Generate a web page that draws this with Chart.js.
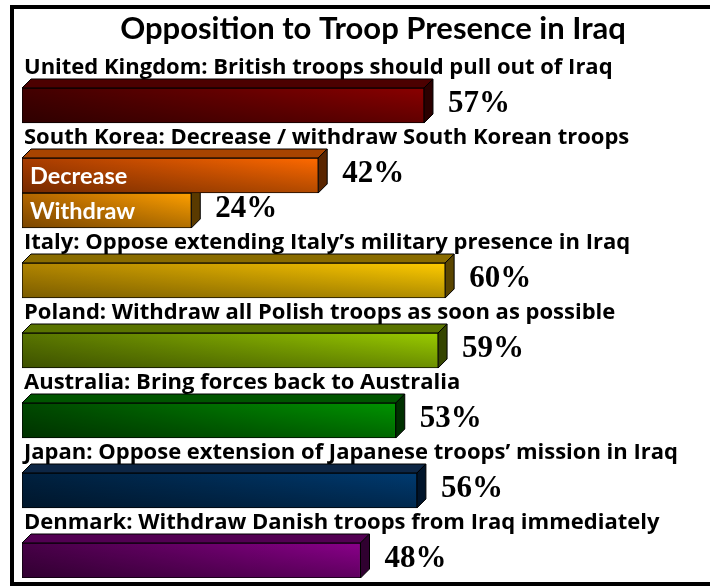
<!DOCTYPE html>
<html>
<head>
<meta charset="utf-8">
<script src="https://cdn.jsdelivr.net/npm/chart.js@4.4.0/dist/chart.umd.min.js"></script>
<style>
  body { margin: 0; background: #fff; }
  #wrap { position: relative; width: 710px; height: 587px; overflow: hidden; }
  #frame { position: absolute; left: 10px; top: 5px; width: 720px; height: 581px; border: 4px solid #000; box-sizing: border-box; }
  #iraqChart { position: absolute; left: 0; top: 0; }
</style>
</head>
<body>
<div id="wrap">
  <div id="frame"></div>
  <canvas id="iraqChart" width="710" height="587"></canvas>
</div>
<script>
// Chart data
const chartTitle = 'Opposition to Troop Presence in Iraq';
const countries = ['United Kingdom', 'South Korea', 'Italy', 'Poland', 'Australia', 'Japan', 'Denmark'];
const questions = [
    'British troops should pull out of Iraq',
    'Decrease / withdraw South Korean troops',
    'Oppose extending Italy\u2019s military presence in Iraq',
    'Withdraw all Polish troops as soon as possible',
    'Bring forces back to Australia',
    'Oppose extension of Japanese troops\u2019 mission in Iraq',
    'Withdraw Danish troops from Iraq immediately'
];
const answers = [[''], ['Decrease', 'Withdraw'], [''], [''], [''], [''], ['']];
const values = [[57], [42, 24], [60], [59], [53], [56], [48]];

// Bar colours, one per bar (front light/dark, top face, side face)
const palette = [
    { light: '#8a0000', dark: '#420000', top: '#4c0000', side: '#2a0000' },
    { light: '#ff6a00', dark: '#a83c00', top: '#a84400', side: '#5a2500' },
    { light: '#ffa000', dark: '#b06400', top: '#b06a00', side: '#5a3a00' },
    { light: '#ffcc00', dark: '#b08400', top: '#8a6c00', side: '#5a4500' },
    { light: '#9acc00', dark: '#587400', top: '#5a7400', side: '#354500' },
    { light: '#009400', dark: '#004800', top: '#005500', side: '#003000' },
    { light: '#003a70', dark: '#00203e', top: '#0d2645', side: '#00142a' },
    { light: '#8a008a', dark: '#460046', top: '#520052', side: '#300030' }
];

const DEPTH = 9;

// Build rows: a title row for each country, then one row per bar
const rowLabels = [];
const rowValues = [];
const rowInfo = [];
let barCount = 0;
countries.forEach((country, i) => {
    rowLabels.push(country + ': ' + questions[i]);
    rowValues.push(null);
    rowInfo.push({ kind: 'title' });
    values[i].forEach((v, j) => {
        rowLabels.push(answers[i][j]);
        rowValues.push(v);
        rowInfo.push({ kind: 'bar', sub: j, color: palette[barCount++] });
    });
});

// 3D faces, titles and value labels
const boxPlugin = {
    id: 'box3d',
    beforeDatasetsDraw(chart) {
        const ctx = chart.ctx;
        const meta = chart.getDatasetMeta(0);
        ctx.save();
        ctx.lineWidth = 1;
        ctx.strokeStyle = '#000';
        meta.data.forEach((bar, i) => {
            const info = rowInfo[i];
            if (info.kind !== 'bar') return;
            const top = bar.y - bar.height / 2;
            const bottom = bar.y + bar.height / 2;
            const x0 = bar.base, x1 = bar.x;
            if (info.sub === 0) {
                ctx.beginPath();
                ctx.moveTo(x0, top);
                ctx.lineTo(x0 + DEPTH, top - DEPTH);
                ctx.lineTo(x1 + DEPTH, top - DEPTH);
                ctx.lineTo(x1, top);
                ctx.closePath();
                ctx.fillStyle = info.color.top;
                ctx.fill();
                ctx.stroke();
            }
            ctx.beginPath();
            ctx.moveTo(x1, top);
            ctx.lineTo(x1 + DEPTH, top - DEPTH);
            ctx.lineTo(x1 + DEPTH, bottom - DEPTH);
            ctx.lineTo(x1, bottom);
            ctx.closePath();
            ctx.fillStyle = info.color.side;
            ctx.fill();
            ctx.stroke();
        });
        ctx.restore();
    },
    afterDatasetsDraw(chart) {
        const ctx = chart.ctx;
        const meta = chart.getDatasetMeta(0);
        const yScale = chart.scales.y;
        ctx.save();
        // darker towards the bottom of each front face
        meta.data.forEach((bar, i) => {
            if (rowInfo[i].kind !== 'bar') return;
            const top = bar.y - bar.height / 2;
            const g = ctx.createLinearGradient(0, top, 0, top + bar.height);
            g.addColorStop(0, 'rgba(0,0,0,0)');
            g.addColorStop(1, 'rgba(0,0,0,0.3)');
            ctx.fillStyle = g;
            ctx.fillRect(bar.base + 1, top + 1, bar.x - bar.base - 2, bar.height - 2);
        });
        ctx.textAlign = 'center';
        ctx.textBaseline = 'alphabetic';
        ctx.fillStyle = '#000';
        ctx.font = 'bold 31px Lato';
        ctx.fillText(chartTitle, 373, 39);
        ctx.textAlign = 'left';
        rowLabels.forEach((label, i) => {
            const info = rowInfo[i];
            if (info.kind === 'title') {
                ctx.fillStyle = '#000';
                ctx.font = 'bold 22px "Open Sans"';
                ctx.fillText(label, 24, yScale.getPixelForValue(i) + 3);
                return;
            }
            const bar = meta.data[i];
            const top = bar.y - bar.height / 2;
            const bottom = bar.y + bar.height / 2;
            if (label) {
                ctx.fillStyle = '#fff';
                ctx.font = 'bold 23.5px Lato';
                ctx.fillText(label, 30, bar.y + 8.5);
            }
            ctx.fillStyle = '#000';
            ctx.font = 'bold 31px "Liberation Serif"';
            ctx.fillText(rowValues[i] + '%', bar.x + DEPTH + 15, (top - DEPTH + bottom) / 2 + 10.5);
        });
        ctx.restore();
    }
};

const ctx = document.getElementById('iraqChart').getContext('2d');
const troopChart = new Chart(ctx, {
    type: 'bar',
    data: {
        labels: rowLabels,
        datasets: [{
            data: rowValues,
            barPercentage: 1,
            categoryPercentage: 1,
            borderWidth: 1,
            borderColor: '#000',
            borderSkipped: false,
            backgroundColor: c => {
                const info = rowInfo[c.dataIndex];
                if (!info || info.kind !== 'bar') return 'transparent';
                const chart = c.chart;
                if (!chart.chartArea) return info.color.light;
                const xs = chart.scales.x, ys = chart.scales.y;
                const x0 = xs.getPixelForValue(0);
                const x1 = xs.getPixelForValue(c.raw);
                const yc = ys.getPixelForValue(c.dataIndex);
                const g = chart.ctx.createLinearGradient(x0, yc + 17, x1, yc - 17);
                g.addColorStop(0, info.color.dark);
                g.addColorStop(1, info.color.light);
                return g;
            }
        }]
    },
    options: {
        indexAxis: 'y',
        responsive: false,
        animation: false,
        layout: { padding: { left: 22, right: 11, top: 53, bottom: 9 } },
        plugins: {
            legend: { display: false },
            tooltip: { enabled: false }
        },
        scales: {
            x: { type: 'linear', min: 0, max: 96, display: false },
            y: { type: 'category', display: false, offset: true }
        }
    },
    plugins: [boxPlugin]
});
</script>
</body>
</html>
